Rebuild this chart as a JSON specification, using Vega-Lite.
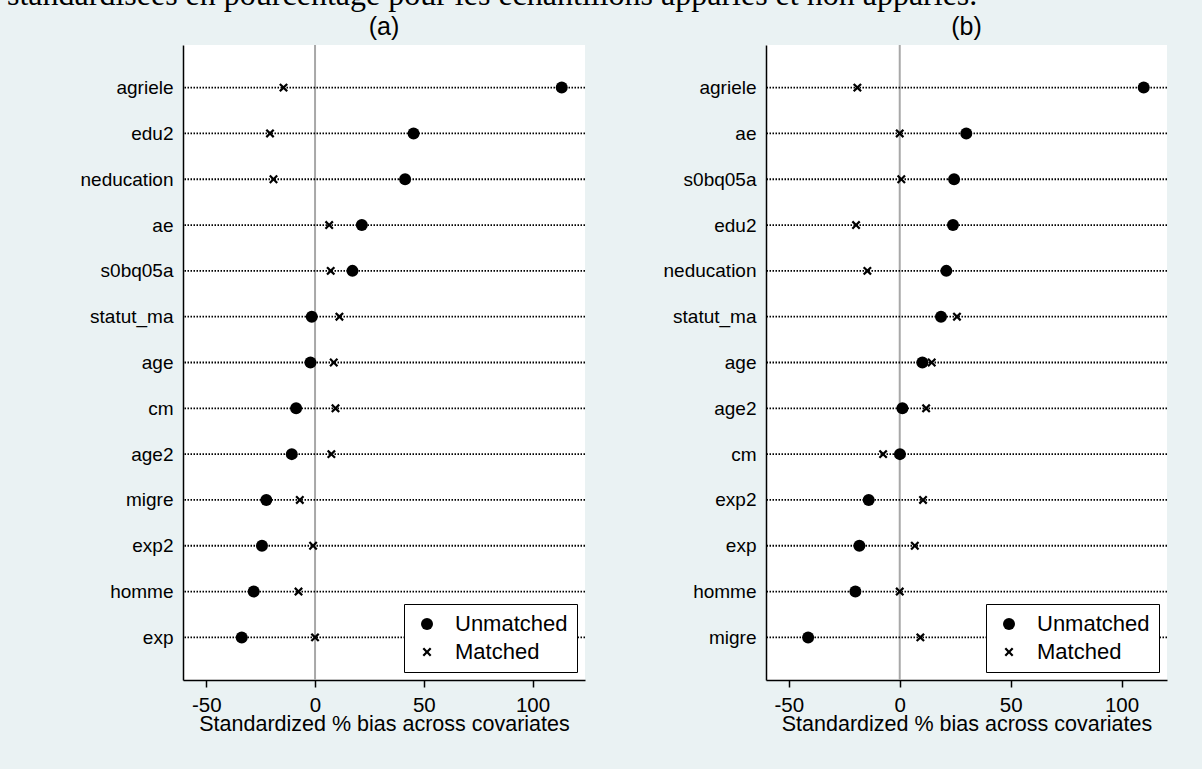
{
  "$schema": "https://vega.github.io/schema/vega-lite/v6.json",
  "background": "#EAF2F3",
  "padding": {"left": 0, "top": -21, "right": 40, "bottom": 50},
  "title": {"text": "standardisées en pourcentage pour les échantillons appariés et non appariés.", "anchor": "start", "frame": "bounds", "font": "Liberation Serif", "fontSize": 32, "baseline": "alphabetic", "offset": -22, "dx": 7},
  "datasets": {
    "bias": [
      {"panel": "a", "variable": "agriele", "sample": "Unmatched", "bias": 113.4},
      {"panel": "a", "variable": "edu2", "sample": "Unmatched", "bias": 45.3},
      {"panel": "a", "variable": "neducation", "sample": "Unmatched", "bias": 41.4},
      {"panel": "a", "variable": "ae", "sample": "Unmatched", "bias": 21.5},
      {"panel": "a", "variable": "s0bq05a", "sample": "Unmatched", "bias": 17.2},
      {"panel": "a", "variable": "statut_ma", "sample": "Unmatched", "bias": -1.5},
      {"panel": "a", "variable": "age", "sample": "Unmatched", "bias": -2.1},
      {"panel": "a", "variable": "cm", "sample": "Unmatched", "bias": -8.7},
      {"panel": "a", "variable": "age2", "sample": "Unmatched", "bias": -10.7},
      {"panel": "a", "variable": "migre", "sample": "Unmatched", "bias": -22.4},
      {"panel": "a", "variable": "exp2", "sample": "Unmatched", "bias": -24.4},
      {"panel": "a", "variable": "homme", "sample": "Unmatched", "bias": -28.2},
      {"panel": "a", "variable": "exp", "sample": "Unmatched", "bias": -33.7},
      {"panel": "a", "variable": "agriele", "sample": "Matched", "bias": -14.5},
      {"panel": "a", "variable": "edu2", "sample": "Matched", "bias": -20.7},
      {"panel": "a", "variable": "neducation", "sample": "Matched", "bias": -19.1},
      {"panel": "a", "variable": "ae", "sample": "Matched", "bias": 6.5},
      {"panel": "a", "variable": "s0bq05a", "sample": "Matched", "bias": 7.2},
      {"panel": "a", "variable": "statut_ma", "sample": "Matched", "bias": 11.2},
      {"panel": "a", "variable": "age", "sample": "Matched", "bias": 8.6},
      {"panel": "a", "variable": "cm", "sample": "Matched", "bias": 9.4},
      {"panel": "a", "variable": "age2", "sample": "Matched", "bias": 7.5},
      {"panel": "a", "variable": "migre", "sample": "Matched", "bias": -7.0},
      {"panel": "a", "variable": "exp2", "sample": "Matched", "bias": -0.9},
      {"panel": "a", "variable": "homme", "sample": "Matched", "bias": -7.6},
      {"panel": "a", "variable": "exp", "sample": "Matched", "bias": 0.0},
      {"panel": "b", "variable": "agriele", "sample": "Unmatched", "bias": 110.0},
      {"panel": "b", "variable": "ae", "sample": "Unmatched", "bias": 30.0},
      {"panel": "b", "variable": "s0bq05a", "sample": "Unmatched", "bias": 24.5},
      {"panel": "b", "variable": "edu2", "sample": "Unmatched", "bias": 24.0},
      {"panel": "b", "variable": "neducation", "sample": "Unmatched", "bias": 21.0},
      {"panel": "b", "variable": "statut_ma", "sample": "Unmatched", "bias": 18.6},
      {"panel": "b", "variable": "age", "sample": "Unmatched", "bias": 10.2},
      {"panel": "b", "variable": "age2", "sample": "Unmatched", "bias": 1.2},
      {"panel": "b", "variable": "cm", "sample": "Unmatched", "bias": 0.1},
      {"panel": "b", "variable": "exp2", "sample": "Unmatched", "bias": -14.0},
      {"panel": "b", "variable": "exp", "sample": "Unmatched", "bias": -18.2},
      {"panel": "b", "variable": "homme", "sample": "Unmatched", "bias": -20.0},
      {"panel": "b", "variable": "migre", "sample": "Unmatched", "bias": -41.3},
      {"panel": "b", "variable": "agriele", "sample": "Matched", "bias": -19.1},
      {"panel": "b", "variable": "ae", "sample": "Matched", "bias": 0.0},
      {"panel": "b", "variable": "s0bq05a", "sample": "Matched", "bias": 0.7},
      {"panel": "b", "variable": "edu2", "sample": "Matched", "bias": -19.7},
      {"panel": "b", "variable": "neducation", "sample": "Matched", "bias": -14.6},
      {"panel": "b", "variable": "statut_ma", "sample": "Matched", "bias": 25.8},
      {"panel": "b", "variable": "age", "sample": "Matched", "bias": 14.4},
      {"panel": "b", "variable": "age2", "sample": "Matched", "bias": 11.9},
      {"panel": "b", "variable": "cm", "sample": "Matched", "bias": -7.5},
      {"panel": "b", "variable": "exp2", "sample": "Matched", "bias": 10.5},
      {"panel": "b", "variable": "exp", "sample": "Matched", "bias": 6.8},
      {"panel": "b", "variable": "homme", "sample": "Matched", "bias": 0.0},
      {"panel": "b", "variable": "migre", "sample": "Matched", "bias": 9.3}
    ]
  },
  "config": {
    "font": "Liberation Sans",
    "view": {"fill": "white", "stroke": null},
    "axis": {"domainColor": "black", "domainWidth": 1.5, "tickColor": "black", "tickWidth": 1.5, "labelColor": "black", "titleColor": "black", "titleFontWeight": "normal", "grid": false, "labelFont": "Liberation Sans", "titleFont": "Liberation Sans"},
    "title": {"font": "Liberation Sans", "fontWeight": "normal", "fontSize": 25, "color": "black", "baseline": "alphabetic", "offset": 4, "anchor": "middle", "frame": "group"},
    "legend": {"labelFont": "Liberation Sans", "labelFontSize": 22, "labelColor": "black", "fillColor": "white", "strokeColor": "black", "padding": 9, "symbolOffset": 3, "labelOffset": 17, "rowPadding": 6, "orient": "bottom-right", "offset": 8, "symbolFillColor": "black", "symbolStrokeWidth": 0}
  },
  "spacing": 70,
  "resolve": {"scale": {"x": "independent", "y": "independent", "shape": "independent", "size": "independent"}, "legend": {"shape": "independent", "size": "independent"}, "axis": {"x": "independent", "y": "independent"}},
  "hconcat": [
    {
      "width": 402,
      "height": 635,
      "title": {"text": "(a)"},
      "layer": [
        {
          "data": {"values": [{"ref": 0}]},
          "mark": {"type": "rule", "color": "#A8A8A8", "strokeWidth": 2},
          "encoding": {
            "x": {"field": "ref", "type": "quantitative", "title": "Standardized % bias across covariates", "scale": {"domain": [-60.7, 124.1], "nice": false, "zero": false}}
          }
        },
        {
          "data": {"name": "bias"},
          "transform": [{"filter": "datum.panel === 'a' && datum.sample === 'Unmatched'"}],
          "mark": {"type": "rule", "color": "black", "strokeWidth": 1.8, "strokeDash": [1.5, 1.5]},
          "encoding": {
            "y": {"field": "variable", "type": "nominal", "scale": {"type": "point", "padding": 0.93, "domain": ["agriele", "edu2", "neducation", "ae", "s0bq05a", "statut_ma", "age", "cm", "age2", "migre", "exp2", "homme", "exp"]}, "axis": {"title": null, "ticks": false, "tickSize": 0, "labelPadding": 10, "labelFontSize": 19, "minExtent": 183, "maxExtent": 183}}
          }
        },
        {
          "data": {"name": "bias"},
          "transform": [{"filter": "datum.panel === 'a'"}],
          "mark": {"type": "point", "filled": true, "color": "black", "opacity": 1, "strokeWidth": 0},
          "encoding": {
            "x": {"field": "bias", "type": "quantitative", "title": "Standardized % bias across covariates", "axis": {"values": [-50, 0, 50, 100], "labelExpr": "'' + datum.value", "tickSize": 7, "labelPadding": 8, "labelFontSize": 20.5, "titleFontSize": 21.5, "titlePadding": -2, "labelFlush": false}},
            "y": {"field": "variable", "type": "nominal"},
            "shape": {"field": "sample", "type": "nominal", "scale": {"domain": ["Unmatched", "Matched"], "range": ["circle", "M-1,-0.65L-0.65,-1L0,-0.35L0.65,-1L1,-0.65L0.35,0L1,0.65L0.65,1L0,0.35L-0.65,1L-1,0.65L-0.35,0Z"]}, "legend": {"title": null}},
            "size": {"field": "sample", "type": "nominal", "scale": {"domain": ["Unmatched", "Matched"], "range": [144, 80]}, "legend": {"title": null}}
          }
        }
      ]
    },
    {
      "width": 401,
      "height": 635,
      "title": {"text": "(b)"},
      "layer": [
        {
          "data": {"values": [{"ref": 0}]},
          "mark": {"type": "rule", "color": "#A8A8A8", "strokeWidth": 2},
          "encoding": {
            "x": {"field": "ref", "type": "quantitative", "title": "Standardized % bias across covariates", "scale": {"domain": [-60.3, 120.5], "nice": false, "zero": false}}
          }
        },
        {
          "data": {"name": "bias"},
          "transform": [{"filter": "datum.panel === 'b' && datum.sample === 'Unmatched'"}],
          "mark": {"type": "rule", "color": "black", "strokeWidth": 1.8, "strokeDash": [1.5, 1.5]},
          "encoding": {
            "y": {"field": "variable", "type": "nominal", "scale": {"type": "point", "padding": 0.93, "domain": ["agriele", "ae", "s0bq05a", "edu2", "neducation", "statut_ma", "age", "age2", "cm", "exp2", "exp", "homme", "migre"]}, "axis": {"title": null, "ticks": false, "tickSize": 0, "labelPadding": 10, "labelFontSize": 19, "minExtent": 110, "maxExtent": 110}}
          }
        },
        {
          "data": {"name": "bias"},
          "transform": [{"filter": "datum.panel === 'b'"}],
          "mark": {"type": "point", "filled": true, "color": "black", "opacity": 1, "strokeWidth": 0},
          "encoding": {
            "x": {"field": "bias", "type": "quantitative", "title": "Standardized % bias across covariates", "axis": {"values": [-50, 0, 50, 100], "labelExpr": "'' + datum.value", "tickSize": 7, "labelPadding": 8, "labelFontSize": 20.5, "titleFontSize": 21.5, "titlePadding": -2, "labelFlush": false}},
            "y": {"field": "variable", "type": "nominal"},
            "shape": {"field": "sample", "type": "nominal", "scale": {"domain": ["Unmatched", "Matched"], "range": ["circle", "M-1,-0.65L-0.65,-1L0,-0.35L0.65,-1L1,-0.65L0.35,0L1,0.65L0.65,1L0,0.35L-0.65,1L-1,0.65L-0.35,0Z"]}, "legend": {"title": null}},
            "size": {"field": "sample", "type": "nominal", "scale": {"domain": ["Unmatched", "Matched"], "range": [144, 80]}, "legend": {"title": null}}
          }
        }
      ]
    }
  ]
}
